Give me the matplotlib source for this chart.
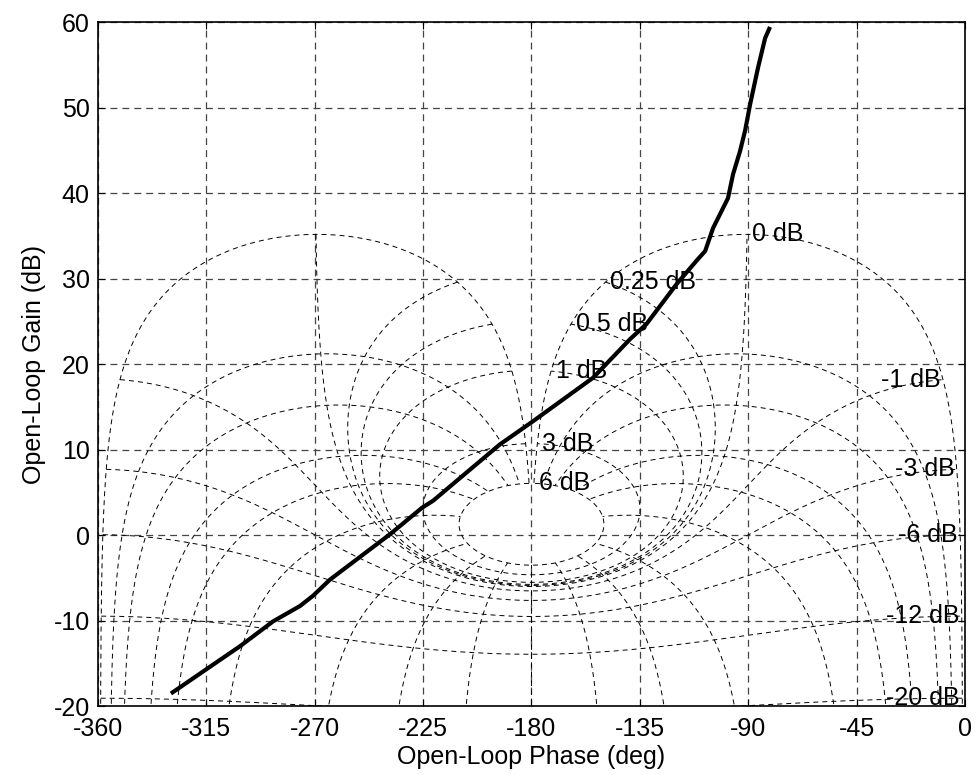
import numpy as np
import matplotlib
matplotlib.use('Agg')
import matplotlib.pyplot as plt

plt.rcParams['font.family'] = ['Liberation Sans', 'DejaVu Sans']
plt.rcParams['lines.scale_dashes'] = False
plt.rcParams['axes.unicode_minus'] = False

# open-loop response (phase in deg, gain in dB)
phase_deg = [-329.0, -301.0, -287.3, -276.1, -270.7, -263.6, -238.7, -225.4,
             -220.9, -193.1, -179.4, -154.4, -139.1, -132.2, -119.6, -110.8,
             -107.9, -104.6, -98.4, -96.3, -93.4, -91.3, -89.2, -85.9, -83.0, -81.3]
gain_db = [-18.4, -13.0, -10.1, -8.3, -7.1, -5.2, 0.1, 3.2,
           4.0, 10.6, 13.3, 18.4, 22.9, 24.7, 29.4, 32.3,
           33.2, 35.9, 39.4, 42.2, 44.9, 47.3, 50.4, 54.7, 58.1, 59.2]

# closed-loop levels of the Nichols grid
cl_gains = [6, 3, 1, 0.5, 0.25, 0, -1, -3, -6, -12, -20, -40]
cl_phases = [1, 5, 10, 20, 30, 50, 90, 120, 150, 180]

xticks = [-360, -315, -270, -225, -180, -135, -90, -45, 0]
yticks = [-20, -10, 0, 10, 20, 30, 40, 50, 60]


def open_loop(t):
    # closed loop T -> open loop L = T/(1-T), phase wrapped to [-360, 0)
    L = t / (1 - t)
    ph = np.mod(np.degrees(np.angle(L)), 360) - 360
    return ph, 20 * np.log10(np.abs(L))


fig = plt.figure(figsize=(9.77, 7.75), dpi=100)
ax = fig.add_axes([0.1003, 0.089, 0.8874, 0.8826])

grid_style = dict(color='k', lw=0.7, ls=(0, (3.6, 2.9)))
fs = 18

# constant closed-loop gain contours
theta = np.radians(np.linspace(1, 359, 2000))
for g in cl_gains:
    ph, gn = open_loop(10 ** (g / 20) * np.exp(1j * theta))
    ax.plot(ph, gn, **grid_style)
    x, y = ph[-1], gn[-1]
    if -360 < x < 0 and -20 < y < 60:
        if g >= 0:
            ax.text(x + 2, y, '%g dB' % g, ha='left', va='center', fontsize=fs)
        else:
            ax.text(x - 1, y, '%g dB' % g, ha='right', va='center', fontsize=fs)

# constant closed-loop phase contours
mags = np.logspace(min(cl_gains) / 20, max(cl_gains) / 20, 6000)
for p in cl_phases:
    for s in (1, -1):
        ph, gn = open_loop(mags * np.exp(1j * np.radians(s * p)))
        ax.plot(ph, gn, **grid_style)

ax.plot(phase_deg, gain_db, color='k', lw=3)

ax.set_xlim(-360, 0)
ax.set_ylim(-20, 60)
ax.set_xticks(xticks)
ax.set_yticks(yticks)
ax.grid(True, color='#444444', lw=0.9, ls=(0, (5, 3.6)))
ax.tick_params(direction='in', length=5, top=True, right=True, labelsize=fs)
ax.tick_params(axis='x', pad=8)
ax.tick_params(axis='y', pad=6)
for sp in ax.spines.values():
    sp.set_linewidth(1.2)
ax.set_xlabel('Open-Loop Phase (deg)', fontsize=fs, labelpad=3)
ax.set_ylabel('Open-Loop Gain (dB)', fontsize=fs, labelpad=5)

fig.savefig('out.png', dpi=100)
